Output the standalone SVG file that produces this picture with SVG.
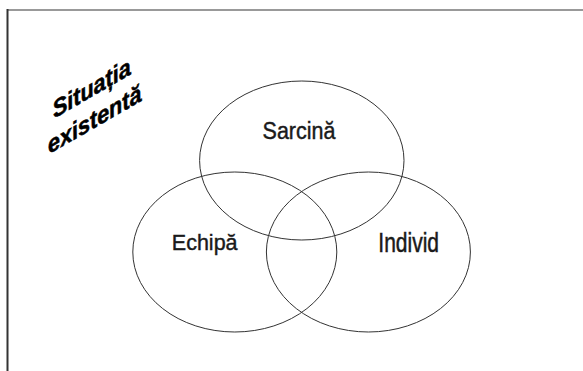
<svg xmlns="http://www.w3.org/2000/svg" width="583" height="371" viewBox="0 0 583 371">
  <style>
    .set { fill: none; stroke: #333; stroke-width: 1; }
    .lbl { font-family: "Liberation Sans", Arial, sans-serif; font-size: 21.5px; fill: #1a1a1a; stroke: #1a1a1a; stroke-width: 0.4; text-anchor: middle; }
    .title { font-family: "Liberation Sans", Arial, sans-serif; font-size: 23.5px; font-weight: bold; font-style: italic; fill: #000; stroke: #000; stroke-width: 0.5; text-anchor: middle; }
  </style>
  <rect width="583" height="371" fill="#fff"/>
  <g id="frame">
    <line x1="7" y1="10" x2="583" y2="10" stroke="#999" stroke-width="2"/>
    <line x1="7.5" y1="9" x2="7.5" y2="371" stroke="#333" stroke-width="2"/>
  </g>
  <g id="title" transform="translate(93,96) rotate(-11) skewY(-19)">
    <text class="title" x="0" y="0">Situația</text>
    <text class="title" x="-3" y="30">existentă</text>
  </g>
  <g id="sarcina">
    <ellipse class="set" cx="301.8" cy="160.5" rx="102.2" ry="79.5"/>
    <text class="lbl" transform="translate(299,139.3) scale(1,1.13)">Sarcină</text>
  </g>
  <g id="echipa">
    <ellipse class="set" cx="234.8" cy="252" rx="102" ry="80"/>
    <text class="lbl" x="204.7" y="250">Echipă</text>
  </g>
  <g id="individ">
    <ellipse class="set" cx="368.4" cy="252" rx="102" ry="80"/>
    <text class="lbl" transform="translate(408.7,252.3) scale(1,1.3)" style="font-size:21px">Individ</text>
  </g>
</svg>
